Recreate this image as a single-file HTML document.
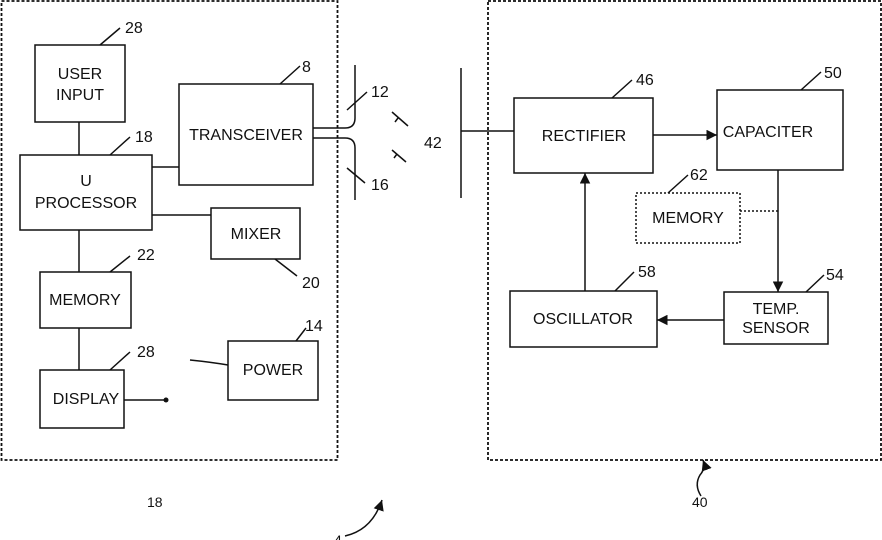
<!DOCTYPE html>
<html><head><style>body{margin:0;background:#fff}svg{display:block}text{font-family:"Liberation Sans",Arial,sans-serif;font-size:16px;fill:#111}</style></head>
<body>
<svg width="882" height="540" viewBox="0 0 882 540" xmlns="http://www.w3.org/2000/svg">
<defs><marker id="a" viewBox="0 0 10 10" refX="10" refY="5" markerWidth="7" markerHeight="7" orient="auto"><path d="M0,0 L10,5 L0,10 z" fill="#111"/></marker></defs>
<g fill="none" stroke="#111" stroke-width="1.5">
<rect x="1.5" y="1" width="336" height="459" stroke-dasharray="3,2" stroke-width="1.8"/>
<rect x="488" y="1" width="393" height="459" stroke-dasharray="3,2" stroke-width="1.8"/>
<rect x="35" y="45" width="90" height="77"/>
<rect x="20" y="155" width="132" height="75"/>
<rect x="179" y="84" width="134" height="101"/>
<rect x="211" y="208" width="89" height="51"/>
<rect x="40" y="272" width="91" height="56"/>
<rect x="40" y="370" width="84" height="58"/>
<rect x="228" y="341" width="90" height="59"/>
<rect x="514" y="98" width="139" height="75"/>
<rect x="717" y="90" width="126" height="80"/>
<rect x="636" y="193" width="104" height="50" stroke-dasharray="2,2"/>
<rect x="510" y="291" width="147" height="56"/>
<rect x="724" y="292" width="104" height="52"/>
<path d="M79 122V155M152 167H179M152 215H211M79 230V272M79 328V370M124 400H166M190 360Q210 362 228 365"/>
<path d="M313 128H345Q355 128 355 118V65M313 138H345Q355 138 355 148V200M461 68V198M461 131H514"/>
<path d="M392 112L408 126M392 150L406 162M398 118l-3 4M397 154l-3 4"/>
<path d="M653 135H717" marker-end="url(#a)"/>
<path d="M778 170V292" marker-end="url(#a)"/>
<path d="M740 211H778" stroke-dasharray="2,2"/>
<path d="M724 320H657" marker-end="url(#a)"/>
<path d="M585 291V173" marker-end="url(#a)"/>
<path d="M100 45L120 28M280 84L300 66M110 155L130 137M347 110L367 92M347 168L365 183M612 98L632 80M801 90L821 72M668 193L688 175M806 292L824 275M615 291L634 272M110 272L130 256M275 259L297 276M296 341L306 328M110 370L130 352"/>
<path d="M701 496Q694 485 700 475Q706 468 703 460" marker-end="url(#a)"/>
<path d="M345 536Q372 530 382 500" marker-end="url(#a)"/>
</g>
<circle cx="166" cy="400" r="2.5" fill="#111"/>
<text x="80" y="79" text-anchor="middle">USER</text><text x="80" y="100" text-anchor="middle">INPUT</text>
<text x="86" y="186" text-anchor="middle">U</text><text x="86" y="208" text-anchor="middle">PROCESSOR</text>
<text x="246" y="140" text-anchor="middle">TRANSCEIVER</text>
<text x="256" y="239" text-anchor="middle">MIXER</text>
<text x="85" y="305" text-anchor="middle">MEMORY</text>
<text x="86" y="404" text-anchor="middle">DISPLAY</text>
<text x="273" y="375" text-anchor="middle">POWER</text>
<text x="584" y="141" text-anchor="middle">RECTIFIER</text>
<text x="768" y="137" text-anchor="middle">CAPACITER</text>
<text x="688" y="223" text-anchor="middle">MEMORY</text>
<text x="583" y="324" text-anchor="middle">OSCILLATOR</text>
<text x="776" y="314" text-anchor="middle">TEMP.</text><text x="776" y="333" text-anchor="middle">SENSOR</text>
<text x="125" y="33">28</text><text x="302" y="72">8</text><text x="135" y="142">18</text>
<text x="371" y="97">12</text><text x="371" y="190">16</text><text x="424" y="148">42</text>
<text x="636" y="85">46</text><text x="824" y="78">50</text><text x="690" y="180">62</text>
<text x="826" y="280">54</text><text x="638" y="277">58</text><text x="137" y="260">22</text>
<text x="302" y="288">20</text><text x="305" y="331">14</text><text x="137" y="357">28</text>
<text x="147" y="507" style="font-size:14px">18</text><text x="692" y="507" style="font-size:14px">40</text>
<text x="334" y="545" style="font-size:14px">4</text>
</svg>
</body></html>
